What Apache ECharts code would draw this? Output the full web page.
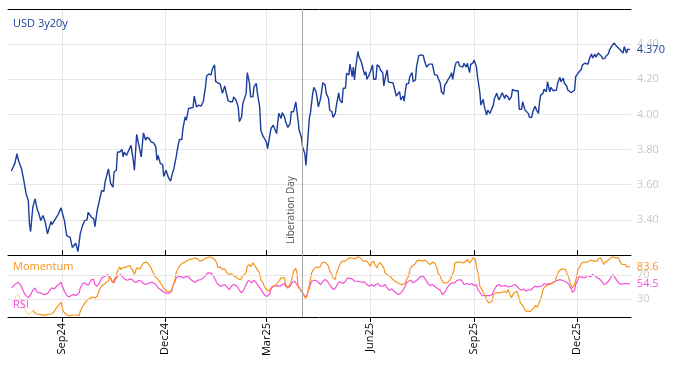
<!DOCTYPE html>
<html><head><meta charset="utf-8">
<script src="https://cdn.jsdelivr.net/npm/echarts@6/dist/echarts.min.js"></script>
<style>html,body{margin:0;padding:0;background:#fff}#c{width:674px;height:366px}</style>
</head><body><div id="c"></div>
<script>
// ---- data ----
const startDate = '2024-07-18';          // day 0 of the day offsets below
const axisMinDate = '2024-07-15';
const axisMaxDate = '2026-01-18';
const tickDates = ['2024-09-01','2024-12-01','2025-03-01','2025-06-01','2025-09-01','2025-12-01'];
const monthNames = ['Jan','Feb','Mar','Apr','May','Jun','Jul','Aug','Sep','Oct','Nov','Dec'];
const eventDate = '2025-04-02';
const eventName = 'Liberation Day';
const mainName = 'USD 3y20y';
const momName = 'Momentum';
const rsiName = 'RSI';
const yTicksMain = [3.4, 3.6, 3.8, 4.0, 4.2, 4.4];
const yTicksInd = [30, 70];

const usdDays = [0,3,5,6,9,11,13,15,16,17,19,21,23,24,26,28,30,32,35,36,38,41,44,45,47,49,50,52,54,55,57,59,61,63,65,67,68,71,73,74,76,78,80,82,83,86,87,88,90,91,93,94,96,98,99,100,102,104,106,108,109,111,113,115,116,117,119,120,122,124,126,128,129,130,132,
134,135,137,139,141,143,144,146,148,149,151,152,154,155,157,158,161,162,164,166,168,170,172,173,175,177,178,180,181,182,185,187,189,190,192,194,196,197,199,201,202,204,205,206,208,209,211,212,214,215,217,218,220,221,223,224,226,227,229,230,232,233,235,236,237,239,240,242,243,245,247,248,250,251,252,254,255,257,258,260,261,263,264,265,267,268,270,
272,274,275,276,278,279,281,282,284,285,287,288,290,291,293,294,296,297,299,300,302,303,304,305,307,308,310,311,313,314,315,317,318,320,321,323,324,326,327,329,330,331,333,334,336,338,339,341,342,344,345,347,348,349,350,352,353,355,356,358,359,361,363,365,366,368,370,371,373,374,375,377,378,380,381,383,384,386,387,389,390,391,393,394,396,397,398,400,401,403,404,406,407,409,410,
412,413,415,416,418,419,421,422,424,425,427,428,430,431,432,434,435,437,438,440,441,443,444,446,447,449,450,452,453,455,456,458,459,461,462,464,465,467,468,469,471,472,474,475,477,478,480,481,483,484,486,487,489,490,492,493,494,496,497,499,500,502,503,505,506,508,509,511,512,514,515,517,518,520,521,523,524,526,527,529,530,532,533,534,536,537,539,540,542,543,545,546,548];
const usdValues = [3.678,3.72,3.777,3.743,3.69,3.625,3.549,3.51,3.377,3.333,3.472,3.52,3.457,3.443,3.396,3.425,3.386,3.32,3.39,3.373,3.396,3.425,3.468,3.468,3.396,3.31,3.30,3.30,3.243,3.243,3.267,3.22,3.32,3.367,3.396,3.40,3.443,3.415,3.406,3.362,3.453,3.51,3.567,3.563,3.615,3.69,3.686,3.606,3.586,3.672,3.682,3.786,3.786,3.80,3.758,3.786,3.767,3.796,3.824,3.739,3.682,3.887,3.824,3.758,3.758,3.895,3.853,3.869,3.863,3.843,3.838,3.815,3.739,3.767,3.72,
3.716,3.647,3.682,3.643,3.62,3.672,3.691,3.758,3.834,3.857,3.857,3.92,3.986,3.967,4.034,4.04,4.04,4.105,4.043,4.053,4.047,4.072,4.158,4.219,4.23,4.225,4.257,4.282,4.186,4.177,4.173,4.12,4.162,4.158,4.078,4.072,4.072,4.10,4.082,4.043,3.958,3.986,4.059,4.066,4.12,4.238,4.177,4.10,4.10,4.158,4.177,4.12,4.043,3.91,3.876,3.882,3.843,3.806,3.882,3.92,3.939,3.945,3.891,3.958,4.006,3.977,4.01,3.986,3.958,3.926,3.949,4.015,4.015,4.043,4.072,3.967,3.91,3.869,3.815,3.777,3.71,3.891,3.977,4.01,4.12,4.154,4.129,
4.043,4.091,4.10,4.181,4.167,4.12,4.091,4.025,4.015,3.983,4.006,4.053,4.123,4.082,4.066,4.149,4.149,4.234,4.225,4.286,4.215,4.269,4.196,4.263,4.358,4.329,4.30,4.291,4.225,4.243,4.20,4.225,4.243,4.282,4.20,4.20,4.282,4.272,4.253,4.238,4.162,4.20,4.253,4.186,4.181,4.181,4.158,4.105,4.10,4.129,4.082,4.105,4.076,4.129,4.173,4.177,4.215,4.238,4.186,4.196,4.272,4.335,4.339,4.335,4.306,4.269,4.286,4.282,4.286,4.291,4.225,4.225,4.229,4.177,4.129,4.114,4.167,4.186,4.20,4.219,4.238,4.20,4.272,4.295,4.30,4.276,4.287,4.269,4.291,4.269,4.291,4.238,4.285,4.293,4.31,
4.272,4.215,4.129,4.053,4.086,4.047,3.996,4.025,4.006,4.002,4.053,4.091,4.12,4.123,4.082,4.11,4.123,4.091,4.11,4.10,4.082,4.10,4.143,4.135,4.129,4.135,4.029,4.029,4.072,4.025,4.034,4.006,3.983,3.983,4.015,4.047,4.029,4.006,4.072,4.11,4.12,4.143,4.129,4.186,4.129,4.154,4.135,4.143,4.139,4.177,4.211,4.186,4.206,4.177,4.162,4.139,4.129,4.123,4.123,4.139,4.215,4.234,4.229,4.257,4.282,4.291,4.287,4.286,4.314,4.345,4.32,4.343,4.326,4.349,4.339,4.329,4.316,4.32,4.333,4.345,4.367,4.39,4.386,4.406,4.39,4.396,4.371,4.363,4.349,4.386,4.349,4.371,4.37];

const momWarmDays = [1,4,6,9,12,15,18,19];
const momWarmValues = [23.3,34.4,37.2,26.1,12.2,3.9,7.8,11.1];
const momDays = [19,21,23,26,29,32,35,37,39,41,44,45,46,48,50,52,55,56,58,60,61,63,65,68,70,72,74,76,78,80,82,84,86,87,88,90,91,93,94,96,97,99,100,102,103,105,106,108,109,111,112,114,115,117,118,120,121,123,125,127,130,132,134,136,138,140,142,143,145,146,148,150,152,154,156,158,161,163,165,167,168,170,172,174,176,178,180,182,183,185,187,189,191,193,195,197,199,201,203,205,208,209,211,212,214,215,217,218,220,221,223,224,226,228,229,231,232,234,235,237,239,240,242,243,245,246,248,249,250,252,253,254,256,257,259,260,262,263,265,266,268,270,272,274,275,276,278,279,281,282,284,285,287,288,290,291,293,294,296,297,299,300,302,303,305,306,307,309,310,312,313,315,316,318,319,321,322,324,325,327,328,330,331,333,334,336,337,338,340,341,343,344,346,347,349,350,352,353,355,356,358,359,361,362,365,367,369,371,373,375,377,378,380,381,383,384,386,387,389,390,392,393,395,396,398,399,401,402,404,405,406,408,409,411,412,414,415,417,418,420,421,423,424,426,427,429,430,432,433,435,436,437,439,440,442,443,445,446,448,449,451,452,454,455,457,458,460,461,463,464,466,467,469,470,471,473,474,476,477,479,480,482,483,485,486,488,489,491,492,494,495,497,498,499,501,502,504,505,507,508,510,511,513,514,516,517,519,520,522,523,525,526,528,529,531,532,533,535,536,538,539,541,542,544,545,548];
const momValues = [11.1,6.7,5,3.9,2.8,3.9,5,6.7,12.2,17.8,24.4,22.2,9.4,5,2.8,2.2,3.3,2.2,3.3,2.2,9.4,16.7,23.3,28.9,31.7,33.3,31.7,34.4,45.6,51.1,53.9,57.8,59.4,67.8,68.9,56.7,62.2,67.8,76.1,83.3,78.9,81.7,80,83.3,80,85.6,81.7,76.1,70.6,81.7,78.9,80,83.3,90,92.8,91.1,88.9,84.4,76.1,67.8,62.2,56.7,51.1,45.6,42.8,41.1,45.6,51.1,62.2,73.3,81.7,87.2,90,91.1,94.4,95.6,96.7,98.3,96.7,92.8,90,94.4,97.8,98.9,100,98.3,95.6,90,81.7,83.3,78.9,80,73.3,70.6,72.2,67.8,66.7,63.3,62.2,67.8,73.3,84.4,87.2,83.3,90,91.1,81.7,80,72.2,62.2,56.7,51.1,45.6,42.8,45.6,51.1,53.9,52.2,53.9,59.4,65,67.8,65,53.9,48.3,51.1,59.4,67.8,76.1,80.6,73.3,51.1,45.6,42.8,37.2,31.7,34.4,45.6,62.2,73.3,80,83.3,81.7,84.4,90,92.8,91.1,90,84.4,76.1,70.6,65,62.2,73.3,81.7,87.2,92.8,95.6,92.8,95.6,98.3,96.7,97.8,95.6,96.7,98.3,100,98.3,95.6,92.8,90,92.8,90,84.4,90,92.8,87.2,81.7,87.2,90,87.2,81.7,73.3,70.6,67.8,66.7,65,62.2,59.4,56.7,55.6,55.6,53.9,53.9,55.6,62.2,67.8,78.9,84.4,87.2,88.9,92.8,94.4,95.6,92.8,94.4,90,87.2,90.6,90,81.7,73.3,67.8,62.2,56.7,53.9,56.7,59.4,62.2,67.8,76.1,90,91.1,91.1,91.1,91.1,90,92.8,95.6,96.7,90,94.4,98.3,95.6,84.4,67.8,51.1,45.6,41.1,34.4,28.9,23.3,22.2,26.1,37.2,40,37.2,40,42.8,41.1,40,42.8,40,45.6,37.2,31.7,40,41.1,42.8,37.2,23.3,20.6,16.7,11.1,9.4,11.1,9.4,11.1,15,18.9,16.7,18.9,28.9,37.2,45.6,51.1,53.9,53.9,55.6,55.6,56.7,59.4,67.8,76.1,78.9,80,81.7,78.9,73.3,65,56.7,48.3,45.6,53.9,67.8,78.9,84.4,88.9,91.1,90,91.1,91.1,94.4,95.6,92.8,91.1,92.8,96.7,98.3,95.6,87.2,91.1,92.8,95.6,98.3,100,100,98.3,95.6,98.3,92.8,87.2,85.6,87.2,83.3,83.6];

const rsiDays = [0,3,6,8,10,12,15,17,19,21,23,26,29,32,34,36,38,40,42,44,45,47,49,51,53,55,57,60,61,63,65,68,69,71,73,74,76,78,80,83,85,86,88,89,91,92,94,97,99,101,103,105,107,109,111,113,115,117,119,121,124,126,128,130,133,135,137,139,142,143,145,146,148,150,153,155,157,159,161,163,165,168,170,172,174,175,177,178,180,182,185,187,189,191,193,195,197,200,202,204,206,208,210,211,213,215,217,219,221,223,225,227,229,230,232,234,236,238,240,242,243,245,247,249,251,253,255,257,259,261,262,264,266,267,269,271,274,276,278,280,282,284,286,288,290,292,294,296,298,299,302,304,305,307,310,311,313,315,317,319,321,323,325,327,329,331,333,335,337,339,341,343,345,347,349,350,352,354,356,358,360,362,365,367,369,371,373,375,377,380,382,384,386,389,391,393,395,398,400,401,404,406,408,410,412,413,415,417,419,421,424,426,428,430,432,434,435,438,440,441,443,446,447,448,450,452,454,456,458,460,462,464,466,468,470,472,474,476,478,480,482,484,486,488,490,492,494,496,497,499,500,502,503,505,508,509,511,513,515,517,519,521,523,525,527,529,531,533,534,536,538,540,542,544,546,548];
const rsiValues = [48.3,53.9,57.8,53.9,45.6,37.2,31.7,37.2,44.4,48.3,41.1,40,37.2,38.9,44.4,48.3,46.7,51.1,53.9,57.8,52.2,42.8,35.6,33.3,35.6,37.2,35.6,40,48.3,55.6,56.7,52.2,55.6,62.2,62.2,53.9,51.1,56.7,65,67.8,70.6,73.3,65,59.4,56.7,62.2,67.8,70.6,65,62.2,61.1,63.3,62.2,57.8,57.8,61.1,59.4,55.6,53.9,55.6,57.8,56.7,53.9,48.3,44.4,41.1,40,38.9,42.8,51.1,59.4,65,67.8,66.7,65,67.8,66.7,62.2,59.4,57.8,61.1,62.2,65,68.3,73.3,76.1,72.8,74.4,65,56.7,51.1,52.2,53.9,50,45.6,51.1,53.9,51.1,44.4,40,45.6,53.9,61.1,62.2,56.7,61.1,56.7,51.1,46.7,40,35.6,34.4,38.9,46.7,51.1,51.1,52.2,51.1,53.9,55.6,51.1,48.3,51.1,57.8,59.4,53.9,48.3,42.8,37.2,31.7,37.2,48.3,59.4,62.2,61.1,59.4,53.9,59.4,62.2,59.4,53.9,48.3,45.6,51.1,57.8,57.8,55.6,59.4,65,66.7,63.3,59.4,57.8,59.4,57.8,55.6,57.8,53.9,51.1,53.9,51.1,53.9,55.6,51.1,51.1,53.9,48.3,44.4,46.7,42.8,40,37.2,40,44.4,51.1,56.7,59.4,61.1,56.7,59.4,62.2,66.7,67.8,62.2,55.6,52.2,53.9,51.1,48.3,44.4,37.2,41.1,48.3,55.6,56.7,56.7,61.1,62.2,57.8,53.9,55.6,53.9,55.6,52.2,53.9,46.7,41.1,35.6,35.6,35.6,35.6,37.2,45.6,52.2,53.9,51.1,51.1,52.2,50,48.3,51.1,53.9,56.7,51.1,46.7,44.4,46.7,42.8,45.6,44.4,48.3,51.1,50,51.1,51.1,55.6,53.9,55.6,55.6,57.8,59.4,61.1,62.2,61.1,59.4,57.8,53.9,46.7,41.1,44.4,53.9,62.2,66.7,66.7,65,67.8,68.9,66.7,70.6,68.9,65,63.3,59.4,53.9,55.6,59.4,65,70.6,68.9,62.2,56.7,53.9,55.6,55.6,55.6,54.5];

// ---- helpers ----
function ymd(s){ const p = s.split('-').map(Number); return Date.UTC(p[0], p[1]-1, p[2]); }
const t0 = ymd(startDate);
const DAY = 86400000;
const pairs = (days, vals) => days.map((d, i) => [t0 + d * DAY, vals[i]]);
const ticks = tickDates.map(ymd);
const fmtMonth = v => { const d = new Date(v); return monthNames[d.getUTCMonth()] + String(d.getUTCFullYear()).slice(2); };

const FONT = 'Open Sans';
const BLUE = '#1b3d9c', ORANGE = '#f7941d', PINK = '#f44fd6', GRID = '#e6e6e6', LBL = '#c8c8c8';

const xBase = { type: 'value', min: ymd(axisMinDate), max: ymd(axisMaxDate), scale: true };

const chart = echarts.init(document.getElementById('c'), null, { renderer: 'canvas' });
chart.setOption({
  animation: false,
  textStyle: { fontFamily: FONT },
  title: [
    { text: mainName, left: 13, top: 18, padding: 0, textStyle: { fontFamily: FONT, fontSize: 11, fontWeight: 'normal', color: BLUE } },
    { text: momName, left: 13, top: 261, padding: 0, textStyle: { fontFamily: FONT, fontSize: 11, fontWeight: 'normal', color: ORANGE } },
    { text: rsiName, left: 13, top: 299, padding: 0, textStyle: { fontFamily: FONT, fontSize: 11, fontWeight: 'normal', color: PINK } }
  ],
  grid: [
    { left: 8, right: 43, top: 9, height: 246 },
    { left: 8, right: 43, top: 255, height: 62 }
  ],
  xAxis: [
    Object.assign({}, xBase, { gridIndex: 0, position: 'bottom',
      axisLine: { show: true, onZero: false, lineStyle: { color: '#000', width: 1 } },
      axisTick: { show: true, inside: true, length: 5, lineStyle: { color: '#000' }, customValues: ticks },
      axisLabel: { show: false, customValues: ticks },
      splitLine: { show: true, lineStyle: { color: GRID, width: 1 } } }),
    Object.assign({}, xBase, { gridIndex: 0, position: 'top',
      axisLine: { show: true, onZero: false, lineStyle: { color: '#000', width: 1 } },
      axisTick: { show: false }, axisLabel: { show: false }, splitLine: { show: false } }),
    Object.assign({}, xBase, { gridIndex: 1, position: 'bottom',
      axisLine: { show: true, onZero: false, lineStyle: { color: '#000', width: 1 } },
      axisTick: { show: true, length: 5, lineStyle: { color: '#000' }, customValues: ticks },
      axisLabel: { show: true, rotate: 90, margin: 6, fontSize: 11, color: '#000', fontFamily: FONT, customValues: ticks, formatter: fmtMonth },
      splitLine: { show: true, lineStyle: { color: GRID, width: 1 } } })
  ],
  yAxis: [
    { type: 'value', gridIndex: 0, position: 'right', min: 3.2, max: 4.6, interval: 0.2,
      axisLine: { show: false }, axisTick: { show: false },
      axisLabel: { show: true, margin: 6, fontSize: 11, color: LBL, fontFamily: FONT, showMinLabel: false, showMaxLabel: false,
        formatter: v => yTicksMain.some(t => Math.abs(t - v) < 1e-6) ? v.toFixed(2) : '' },
      splitLine: { show: true, lineStyle: { color: GRID, width: 1 } } },
    { type: 'value', gridIndex: 1, position: 'right', min: 0, max: 103, interval: 10,
      axisLine: { show: false }, axisTick: { show: false },
      axisLabel: { show: true, margin: 6, fontSize: 11, color: LBL, fontFamily: FONT,
        formatter: v => yTicksInd.indexOf(Math.round(v)) >= 0 ? String(Math.round(v)) : '' },
      splitLine: { show: false } }
  ],
  series: [
    { name: mainName, type: 'line', xAxisIndex: 0, yAxisIndex: 0, data: pairs(usdDays, usdValues),
      showSymbol: false, lineStyle: { color: BLUE, width: 1.4 }, itemStyle: { color: BLUE },
      endLabel: { show: true, distance: 7, color: BLUE, fontSize: 11, fontFamily: FONT, formatter: p => p.value[1].toFixed(3) },
      markLine: { silent: true, symbol: 'none', animation: false,
        lineStyle: { color: '#a8a8a8', width: 1, type: 'solid' },
        label: { show: true, position: 'insideStartTop', formatter: eventName, color: '#555', fontSize: 10, fontFamily: FONT, distance: [11, 6] },
        data: [{ xAxis: ymd(eventDate) }] } },
    { name: momName + ' warm-up', type: 'line', xAxisIndex: 2, yAxisIndex: 1, data: pairs(momWarmDays, momWarmValues),
      showSymbol: false, lineStyle: { color: '#fcdcbc', width: 1.2 }, z: 1 },
    { name: rsiName, type: 'line', xAxisIndex: 2, yAxisIndex: 1, data: pairs(rsiDays, rsiValues),
      showSymbol: false, lineStyle: { color: PINK, width: 1.2 }, itemStyle: { color: PINK },
      endLabel: { show: true, distance: 7, color: PINK, fontSize: 11, fontFamily: FONT, formatter: p => p.value[1].toFixed(1) },
      markLine: { silent: true, symbol: 'none', animation: false, label: { show: false },
        data: [
          { yAxis: yTicksInd[0], lineStyle: { color: GRID, width: 1, type: 'solid' } },
          { yAxis: yTicksInd[1], lineStyle: { color: GRID, width: 1, type: 'solid' } },
          { xAxis: ymd(eventDate), lineStyle: { color: '#a8a8a8', width: 1, type: 'solid' } }
        ] } },
    { name: momName, type: 'line', xAxisIndex: 2, yAxisIndex: 1, data: pairs(momDays, momValues),
      showSymbol: false, lineStyle: { color: ORANGE, width: 1.2 }, itemStyle: { color: ORANGE },
      endLabel: { show: true, distance: 7, color: ORANGE, fontSize: 11, fontFamily: FONT, formatter: p => p.value[1].toFixed(1) } }
  ]
});
</script>
</body></html>
